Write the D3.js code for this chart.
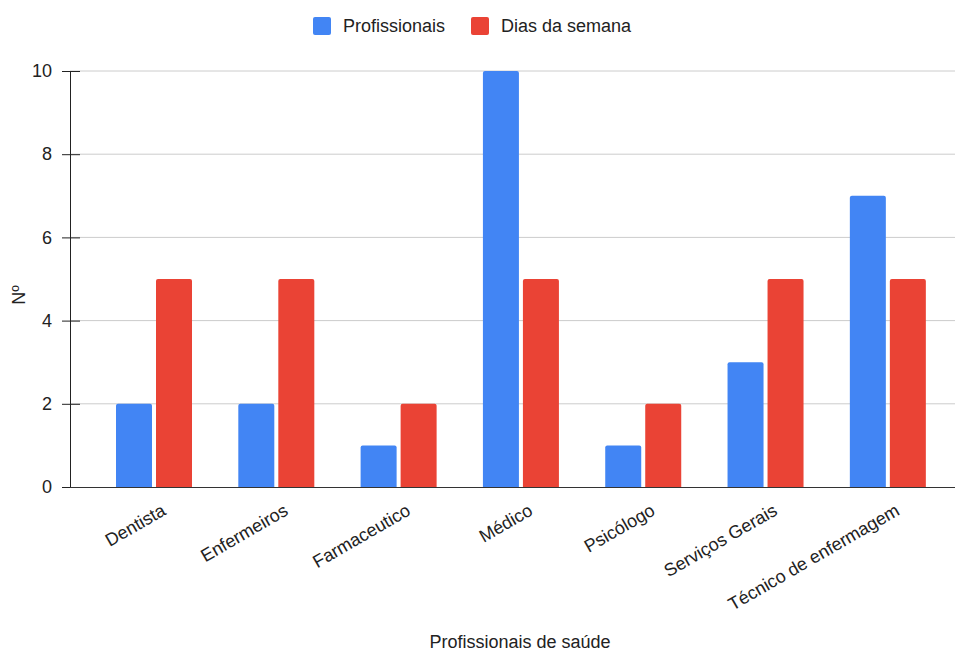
<!DOCTYPE html>
<html>
<head>
<meta charset="utf-8">
<script src="https://cdn.jsdelivr.net/npm/d3@7"></script>
<style>
  body { margin: 0; background: #fff; }
  svg { font-family: "Liberation Sans", Arial, sans-serif; }
</style>
</head>
<body>
<div id="chart"></div>
<script>
// Chart data
const categories = ["Dentista", "Enfermeiros", "Farmaceutico", "Médico", "Psicólogo", "Serviços Gerais", "Técnico de enfermagem"]
const seriesNames = ["Profissionais", "Dias da semana"]
const profissionais = [2, 2, 1, 10, 1, 3, 7]
const diasDaSemana = [5, 5, 2, 5, 2, 5, 5]
const yTicks = [0, 2, 4, 6, 8, 10]
const colours = ["#4285f4", "#ea4335"]

const WIDTH = 955
const HEIGHT = 651
const PLOT = {LEFT:70, RIGHT:955, TOP:71, BOTTOM:487}
const FONT = 18

const series = [profissionais, diasDaSemana]
const data = categories.map((c, i) => ({cat: c, values: series.map((s, j) => ({key: seriesNames[j], value: s[i], idx: j}))}))

let svg = d3.select("#chart").append("svg")
    .attr("width", WIDTH)
    .attr("height", HEIGHT)

// Scales
let yScale = d3.scaleLinear()
    .domain([0, 10])
    .range([PLOT.BOTTOM, PLOT.TOP])

let x0 = d3.scaleBand()
    .domain(categories)
    .range([92.85, 949])
    .padding(0)

let x1 = d3.scaleBand()
    .domain(seriesNames)
    .range([(x0.bandwidth() - 76) / 2, (x0.bandwidth() + 76) / 2])
    .paddingInner(0.1)

// Gridlines
svg.append("g")
    .selectAll("line")
    .data(yTicks.filter(d => d > 0))
    .join("line")
        .attr("x1", PLOT.LEFT)
        .attr("x2", PLOT.RIGHT)
        .attr("y1", d => yScale(d))
        .attr("y2", d => yScale(d))
        .attr("stroke", "#cccccc")
        .attr("stroke-width", 1)

// Bars with rounded tops
function topRounded(x, y, w, h, r) {
    r = Math.min(r, h)
    return `M${x},${y + h}V${y + r}Q${x},${y} ${x + r},${y}H${x + w - r}Q${x + w},${y} ${x + w},${y + r}V${y + h}Z`
}

svg.append("g")
    .selectAll("g")
    .data(data)
    .join("g")
        .attr("transform", d => `translate(${x0(d.cat)},0)`)
    .selectAll("path")
    .data(d => d.values)
    .join("path")
        .attr("d", d => topRounded(x1(d.key), yScale(d.value), x1.bandwidth(), PLOT.BOTTOM - yScale(d.value), 2))
        .attr("fill", d => colours[d.idx])

// Y axis
let yAxis = svg.append("g")
    .attr("transform", `translate(${PLOT.LEFT},0)`)
    .call(d3.axisLeft(yScale).tickValues(yTicks).tickSize(8).tickPadding(10).tickFormat(d3.format("d")))
yAxis.select(".domain").attr("stroke", "#222").attr("d", `M0.5,${PLOT.TOP}V${PLOT.BOTTOM}`)
yAxis.selectAll(".tick line").attr("x1", 10).attr("x2", -8).attr("stroke", "#222")
yAxis.selectAll(".tick text").attr("font-size", FONT).attr("fill", "#222").attr("font-family", "Liberation Sans, Arial, sans-serif")

// X axis baseline
svg.append("line")
    .attr("x1", PLOT.LEFT)
    .attr("x2", PLOT.RIGHT)
    .attr("y1", PLOT.BOTTOM + 0.5)
    .attr("y2", PLOT.BOTTOM + 0.5)
    .attr("stroke", "#333")
    .attr("stroke-width", 1)

// X labels, rotated
svg.append("g")
    .selectAll("text")
    .data(categories)
    .join("text")
        .attr("transform", d => `translate(${x0(d) + x0.bandwidth() / 2 + 13},514) rotate(-30)`)
        .attr("text-anchor", "end")
        .attr("font-size", FONT)
        .attr("fill", "#222")
        .text(d => d)

// Axis titles
svg.append("text")
    .attr("x", 520)
    .attr("y", 648)
    .attr("text-anchor", "middle")
    .attr("font-size", FONT)
    .attr("fill", "#222")
    .text("Profissionais de saúde")

svg.append("text")
    .attr("transform", "translate(25,295) rotate(-90)")
    .attr("text-anchor", "middle")
    .attr("font-size", FONT)
    .attr("fill", "#222")
    .text("Nº")

// Legend
const legendX = [313, 471]
let legend = svg.append("g")
    .selectAll("g")
    .data(seriesNames)
    .join("g")
        .attr("transform", (d, i) => `translate(${legendX[i]},17)`)
legend.append("rect")
    .attr("width", 18)
    .attr("height", 18)
    .attr("rx", 2)
    .attr("fill", (d, i) => colours[i])
legend.append("text")
    .attr("x", 30)
    .attr("y", 15)
    .attr("font-size", FONT)
    .attr("fill", "#222")
    .text(d => d)
</script>
</body>
</html>
